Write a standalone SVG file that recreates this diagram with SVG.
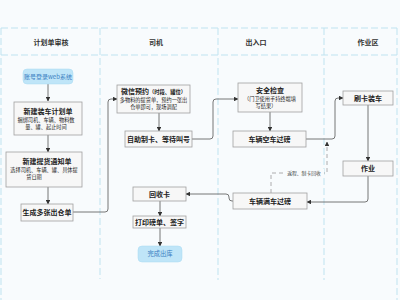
<svg xmlns="http://www.w3.org/2000/svg" width="400" height="300" viewBox="0 0 400 300">
<style>
.lane{stroke:#bfe3f0;stroke-width:1;stroke-dasharray:7 3;fill:none}
.box{fill:#f7f7f7;stroke:#a0a0a0;stroke-width:0.8}
.pill{fill:#bfe5f8;stroke:#a9dbf3;stroke-width:0.5}
.t{font-family:"Noto Sans CJK SC","Liberation Sans",sans-serif;fill:#222;text-anchor:middle}
.h{font-size:7px;font-weight:bold;fill:#333}
.b{font-size:7px;font-weight:bold}
.s{font-size:5.2px;font-weight:normal}
.p{font-size:6px;fill:#3a7ec2}
.c{fill:none;stroke:#666;stroke-width:0.9;marker-end:url(#ah)}
.d{fill:none;stroke:#999;stroke-width:0.8;stroke-dasharray:4 3;marker-end:url(#ah)}
</style>
<defs>
<marker id="ah" viewBox="0 0 10 10" refX="9" refY="5" markerWidth="4.5" markerHeight="4.5" orient="auto" markerUnits="userSpaceOnUse">
<path d="M0,0 L10,5 L0,10 z" fill="#333"/>
</marker>
</defs>
<rect width="400" height="300" fill="#f8fbfd"/>
<g id="lanes">
<path class="lane" d="M1,28 H397 M1,55 H397 M1,28 V300 M100,28 V279 M218,28 V280 M324,28 V280 M397,28 V300"/>
<text class="t h" x="51" y="45">计划单审核</text>
<text class="t h" x="156" y="45">司机</text>
<text class="t h" x="256" y="45">出入口</text>
<text class="t h" x="368" y="45">作业区</text>
</g>
<g id="connectors">
<path class="c" d="M48,84 V101"/>
<path class="c" d="M48,135 V152"/>
<path class="c" d="M48,187 V204"/>
<path class="c" d="M73,212 H105 Q108,212 108,209 V102 Q108,99 111,99 H117"/>
<path class="c" d="M159,113 V131"/>
<path class="c" d="M192,139 H210 Q213,139 213,136 V102 Q213,99 216,99 H238"/>
<path class="c" d="M270,112 V131"/>
<path class="c" d="M306,139 H332 Q335,139 335,136 V101 Q335,98 338,98 H343"/>
<path class="c" d="M368,105 V161"/>
<path class="c" d="M368,176 V199 Q368,202 365,202 H307"/>
<path class="c" d="M233,201 H232 Q229,201 229,198 V197 Q229,194 226,194 H186"/>
<path class="c" d="M160,201 V216"/>
<path class="c" d="M160,228 V246"/>
<path class="d" d="M271,193 V173 H327 V142"/>
<rect x="284" y="169" width="40" height="7" fill="#f8fbfd"/>
<text class="t s" x="304" y="175" style="font-size:4.8px;fill:#444">返程、制卡回收</text>
</g>
<g id="n1"><rect class="pill" x="23" y="69" width="50" height="15" rx="4"/><text class="t p" x="48" y="78.8">账号登录web系统</text></g>
<g id="n2"><rect class="box" x="14" y="102" width="68" height="33"/>
<text class="t b" x="48" y="114">新建装车计划单</text>
<text class="t s" x="46" y="122">捆绑司机、车辆、物料数</text>
<text class="t s" x="46" y="129">量、罐、起止时间</text></g>
<g id="n3"><rect class="box" x="6" y="152" width="76" height="35"/>
<text class="t b" x="47" y="164">新建提货通知单</text>
<text class="t s" x="44" y="172">选择司机、车辆、罐、具体提</text>
<text class="t s" x="34" y="179">货日期</text></g>
<g id="n4"><rect class="box" x="21" y="204" width="52" height="17"/><text class="t b" x="47" y="215">生成多张出仓单</text></g>
<g id="n5"><rect class="box" x="117" y="85" width="73" height="28"/>
<text class="t b" x="153.5" y="94">微信预约<tspan style="font-size:5.3px">（时段、罐位）</tspan></text>
<text class="t s" x="153.5" y="101.5">多物料的提货单，预约一张出</text>
<text class="t s" x="153.5" y="108.5">仓单即可，现场调配</text></g>
<g id="n6"><rect class="box" x="125" y="131" width="67" height="16"/><text class="t b" x="158.5" y="141.5">自助制卡、等待叫号</text></g>
<g id="n7"><rect class="box" x="238" y="83" width="64" height="29"/>
<text class="t b" x="270" y="93">安全检查</text>
<text class="t s" x="270" y="100.5">（门卫使用手持终端填</text>
<text class="t s" x="266" y="107.5">写结果）</text></g>
<g id="n8"><rect class="box" x="233" y="131" width="73" height="16"/><text class="t b" x="269.5" y="141.5">车辆空车过磅</text></g>
<g id="n9"><rect class="box" x="343" y="91" width="50" height="14"/><text class="t b" x="368" y="100.5">刷卡装车</text></g>
<g id="n10"><rect class="box" x="343" y="161" width="50" height="15"/><text class="t b" x="368" y="171">作业</text></g>
<g id="n11"><rect class="box" x="233" y="193" width="74" height="16"/><text class="t b" x="270" y="203.5">车辆满车过磅</text></g>
<g id="n12"><rect class="box" x="133" y="187" width="53" height="14"/><text class="t b" x="159.5" y="196.5">回收卡</text></g>
<g id="n13"><rect class="box" x="133" y="216" width="53" height="12"/><text class="t b" x="159.5" y="224.5">打印磅单、签字</text></g>
<g id="n14"><rect class="pill" x="138" y="246" width="44" height="16" rx="4"/><text class="t p" x="160" y="256.2" style="font-size:6.3px">完成出库</text></g>
</svg>
